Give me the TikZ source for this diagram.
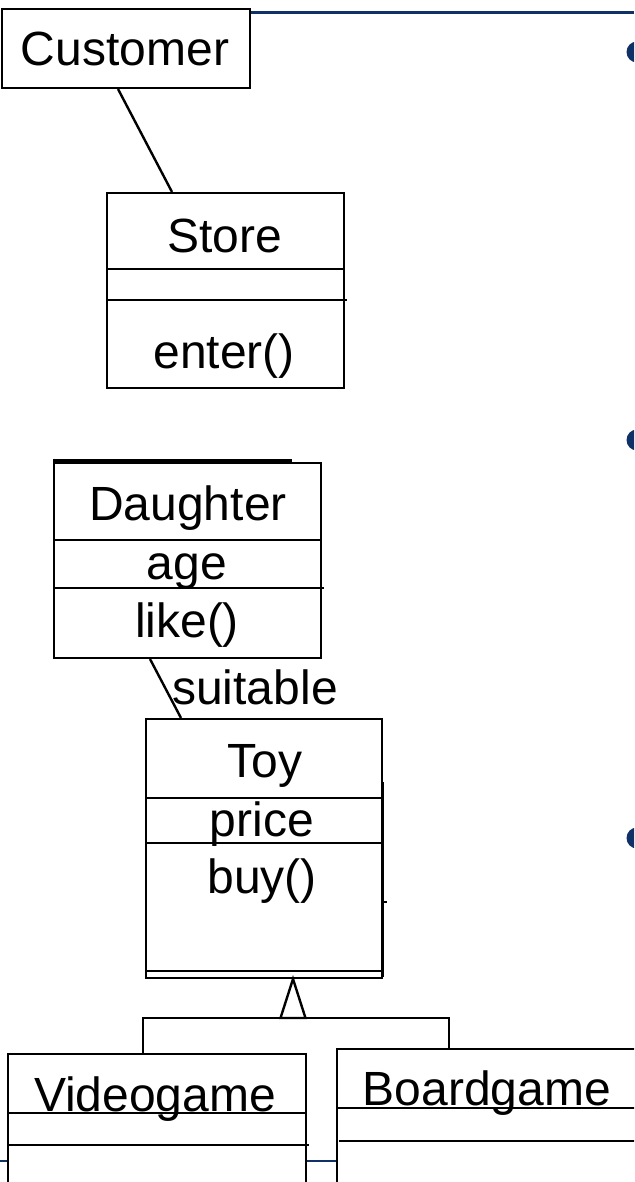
\documentclass[tikz,border=0pt]{standalone}
\usepackage{fontspec}
\setmainfont{Liberation Sans}
\usetikzlibrary{positioning}
\definecolor{slideblue}{RGB}{16,48,104}
\tikzset{
  umlbox/.style={draw, fill=white, line width=1.2pt, anchor=north west, inner sep=0pt},
  umltext/.style={anchor=base, inner sep=0pt, font=\fontsize{24}{28}\selectfont},
  umlline/.style={line width=1.2pt},
}
\begin{document}
\begin{tikzpicture}[x=0.5pt,y=-0.5pt]
  \useasboundingbox (0,0) rectangle (634,1182);
  \clip (0,0) rectangle (634,1182);
  % slide frame
  \draw[slideblue, line width=1.5pt] (200,13) -- (634,13);
  \draw[slideblue, line width=1.2pt] (0,1161) -- (634,1161);
  \foreach \y in {52,440,838}
    \fill[slideblue] (637,\y) circle (5.25pt);
  % classes
  \node[umlbox, minimum width=124pt, minimum height=39.5pt] (customer) at (1,8) {};
  \node[umltext] (customername) at (125,66) {Customer};
  \node[umlbox, minimum width=118.5pt, minimum height=97.5pt] (store) at (106,192) {};
  \node[umltext] (storename) at (225,252) {Store};
  \node[umltext] (storeenter) at (224,368) {enter()};
  \draw[umlline] (106,269) -- (343,269);
  \draw[umlline] (108,300) -- (347,300);
  \node[umlbox, minimum width=133.5pt, minimum height=97.5pt] (daughter) at (53,462) {};
  \draw[line width=1.6pt] (53,461) -- (292,461);
  \node[umltext] (daughtername) at (188,520) {Daughter};
  \node[umltext] (daughterage) at (187,579) {age};
  \node[umltext] (daughterlike) at (187,637) {like()};
  \draw[umlline] (53,540) -- (320,540);
  \draw[umlline] (55,588) -- (324,588);
  \node[umlbox, minimum width=118pt, minimum height=129.5pt] (toy) at (145,718) {};
  \node[umltext] (toyname) at (265,777) {Toy};
  \node[umltext] (toyprice) at (262,836) {price};
  \node[umltext] (toybuy) at (262,893) {buy()};
  \draw[umlline] (145,798) -- (381,798);
  \draw[umlline] (145,843) -- (381,843);
  \draw[umlline] (145,971) -- (381,971);
  \draw[umlline] (383,782) -- (383,977);
  \draw[umlline] (383,902) -- (387,902);
  \node[umlbox, minimum width=149pt, minimum height=80pt] (videogame) at (7,1053) {};
  \node[umltext] (videogamename) at (155,1111) {Videogame};
  \draw[umlline] (7,1113) -- (305,1113);
  \draw[umlline] (9,1145) -- (309,1145);
  \node[umlbox, minimum width=160pt, minimum height=80pt] (boardgame) at (336,1048) {};
  \node[umltext] (boardgamename) at (487,1105) {Boardgame};
  \draw[umlline] (336,1108) -- (640,1108);
  \draw[umlline] (339,1141) -- (640,1141);
  % associations
  \coordinate (custend) at (118,89);
  \coordinate (storeend) at (172,192);
  \draw[umlline] (custend) -- (storeend);
  \coordinate (daughterend) at (150,659);
  \coordinate (toyend) at (181,718);
  \draw[umlline] (daughterend) -- (toyend);
  \node[umltext] (suitable) at (255,704) {suitable};
  % generalization
  \coordinate (apex) at (293,979);
  \coordinate (fork) at (293,1018);
  \coordinate (vgtop) at (143,1053);
  \coordinate (bgtop) at (449,1048);
  \draw[umlline, line join=miter] (apex) -- ([xshift=-6.25pt]fork) -- ([xshift=6.25pt]fork) -- cycle;
  \draw[umlline] (vgtop) |- (fork) -| (bgtop);
\end{tikzpicture}
\end{document}
